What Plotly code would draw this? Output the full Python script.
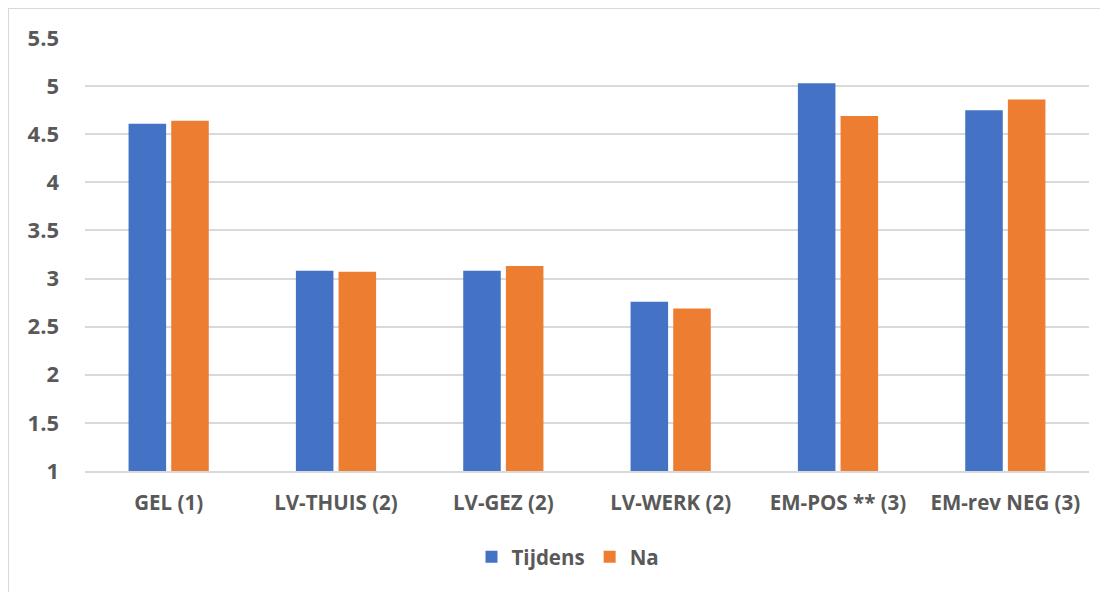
import plotly.graph_objects as go

categories = ["GEL (1)", "LV-THUIS (2)", "LV-GEZ (2)", "LV-WERK (2)", "EM-POS ** (3)", "EM-rev NEG (3)"]
tijdens = [4.61, 3.08, 3.08, 2.76, 5.03, 4.75]
na = [4.64, 3.07, 3.13, 2.69, 4.69, 4.86]
y_ticks = [1, 1.5, 2, 2.5, 3, 3.5, 4, 4.5, 5, 5.5]
y_tick_text = ["1", "1.5", "2", "2.5", "3", "3.5", "4", "4.5", "5", "5.5"]

BLUE = "#4472C4"
ORANGE = "#ED7D31"
TEXT = "#595959"
GRID = "#D9D9D9"
FONT = "Open Sans"

fig = go.Figure()
fig.add_trace(go.Bar(name="Tijdens", x=categories, y=tijdens, base=0,
                     marker=dict(color=BLUE, line=dict(width=0))))
fig.add_trace(go.Bar(name="Na", x=categories, y=na, base=0,
                     marker=dict(color=ORANGE, line=dict(width=0))))

# page has an 8px body margin, so the figure starts at (8, 8)
W, H = 1100, 584
L, R, T, B = 77, 19, 30, 121
pw, ph = W - L - R, H - T - B

fig.update_layout(
    width=W, height=H,
    margin=dict(l=L, r=R, t=T, b=B, pad=0, autoexpand=False),
    paper_bgcolor="white", plot_bgcolor="white",
    barmode="group", bargap=0.49, bargroupgap=0.12,
    font=dict(family=FONT, color=TEXT, size=20, weight="bold"),
    showlegend=True,
    legend=dict(orientation="h", xref="container", yref="container",
                x=560 / W, xanchor="center",
                y=1 - 549 / H, yanchor="middle",
                font=dict(family=FONT, size=20.5, color=TEXT, weight="bold"),
                traceorder="normal"),
    xaxis=dict(showgrid=False, showline=True, linecolor=GRID, linewidth=1.5,
               automargin=False,
               ticks="", tickfont=dict(family=FONT, size=20.5, color=TEXT, weight="bold"),
               ticklabelstandoff=13),
    yaxis=dict(range=[1, 5.5], tickmode="array", tickvals=y_ticks, ticktext=y_tick_text,
               automargin=False,
               showgrid=True, gridcolor=GRID, gridwidth=1.5, zeroline=False,
               showline=False, ticks="",
               tickfont=dict(family=FONT, size=22, color=TEXT, weight="bold"),
               ticklabelstandoff=25),
)

# outer chart border (figure's top-left edge, extends beyond right/bottom of view)
fig.add_shape(type="rect", xref="paper", yref="paper",
              x0=(0.5 - L) / pw, x1=(W + 20 - L) / pw,
              y0=(H - B - (H + 20)) / ph, y1=(H - B - 0.5) / ph,
              line=dict(color=GRID, width=1.2), fillcolor="rgba(0,0,0,0)", layer="below")

fig.write_html("out.html")
